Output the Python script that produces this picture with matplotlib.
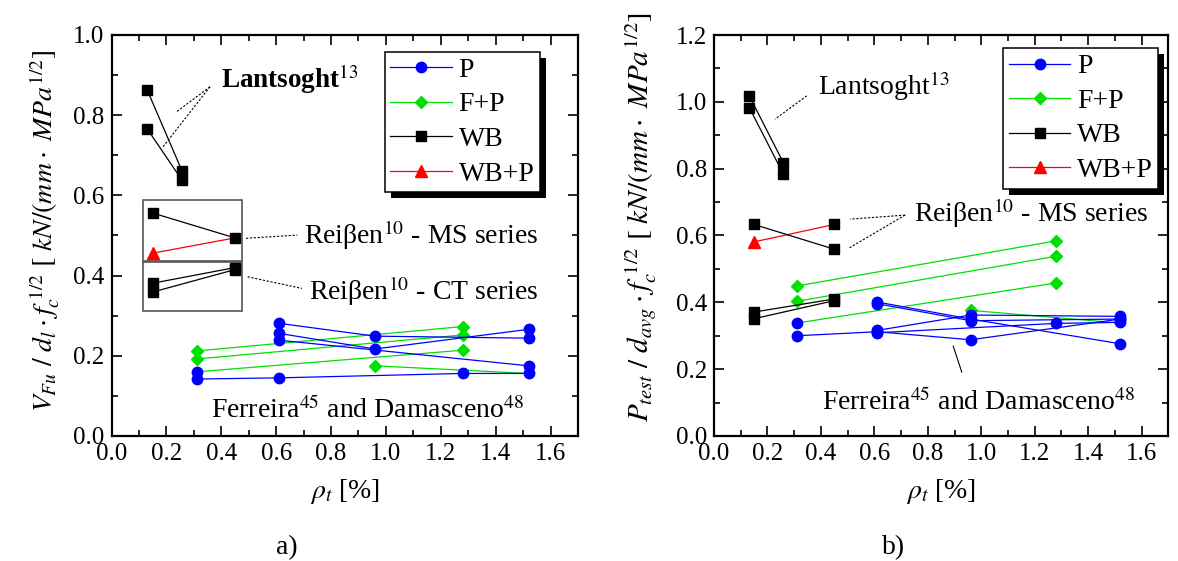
import matplotlib
matplotlib.use("Agg")
import matplotlib.pyplot as plt
from matplotlib.lines import Line2D
from matplotlib.patches import Rectangle
from matplotlib.ticker import MultipleLocator, FormatStrFormatter
from matplotlib.transforms import IdentityTransform

plt.rcParams['font.family'] = ['Liberation Serif', 'DejaVu Serif']
plt.rcParams['mathtext.fontset'] = 'stix'

# reinforcement ratios rho_t [%]
rho_lant_a = [0.13, 0.257]
rho_lant_b = [0.132, 0.26]
rho_reissen = [0.15, 0.45]

# --- a) V_Fu / d_l sqrt(fc) ---
lant_a = [[0.863, 0.661], [0.766, 0.638]]
ms_wb_a = [0.556, 0.494]
ms_wbp_a = [0.456, 0.494]
ct_wb_a = [[0.381, 0.420], [0.359, 0.415]]

p_a = [
    ([0.61, 0.96, 1.52], [0.281, 0.249, 0.244]),
    ([0.61, 0.96, 1.52], [0.256, 0.217, 0.266]),
    ([0.61, 1.52], [0.239, 0.175]),
    ([0.31, 0.61, 1.28, 1.52], [0.142, 0.145, 0.156, 0.156]),
    ([0.31], [0.160]),
]
fp_a = [
    ([0.31, 1.28], [0.212, 0.273], None),
    ([0.31, 1.28], [0.192, 0.252], None),
    ([0.31, 1.28], [0.160, 0.214], [1]),
    ([0.96, 1.52], [0.175, 0.156], [0]),
]

# --- b) P_test / d_avg sqrt(fc) ---
lant_b = [[1.018, 0.817], [0.983, 0.783]]
ms_wb_b = [0.633, 0.559]
ms_wb_b_extra = ([0.45], [0.633])
ms_wbp_b = [0.581, 0.633]
ct_wb_b = [[0.371, 0.410], [0.351, 0.405]]

p_b = [
    ([0.31, 0.61, 0.96, 1.52], [0.300, 0.312, 0.288, 0.350]),
    ([0.61, 0.96, 1.52], [0.316, 0.362, 0.358]),
    ([0.61, 1.28, 1.52], [0.309, 0.337, 0.340]),
    ([0.61, 0.96, 1.52], [0.401, 0.350, 0.276]),
    ([0.61, 0.96, 1.52], [0.396, 0.345, 0.350]),
    ([0.31], [0.338]),
]
fp_b = [
    ([0.31, 1.28], [0.449, 0.584], None),
    ([0.31, 1.28], [0.403, 0.538], None),
    ([0.31, 1.28], [0.338, 0.458], [1]),
    ([0.96, 1.52], [0.376, 0.338], [0]),
]

legend_labels = ['P', 'F+P', 'WB', 'WB+P']
styles = {
    'P': dict(color='#0000ff', marker='o', ms=7.5),
    'F+P': dict(color='#00e000', marker='D', ms=6.5),
    'WB': dict(color='black', marker='s', ms=6.5),
    'WB+P': dict(color='#ff0000', marker='^', ms=8),
}

W, H = 1178, 561
fig = plt.figure(figsize=(W / 100, H / 100), dpi=100)
ax_a = fig.add_axes([111.5 / W, 1 - 436 / H, 466.5 / W, 401 / H])
ax_b = fig.add_axes([714 / W, 1 - 436 / H, 454.4 / W, 401 / H])


def series(ax, x, y, kind, markevery=None, z=3):
    st = styles[kind]
    ax.plot(x, y, color=st['color'], lw=0.9, marker=st['marker'], ms=st['ms'],
            mec=st['color'], mfc=st['color'], markevery=markevery, zorder=z,
            clip_on=False)


def dotted(ax, p0, p1):
    ax.plot([p0[0], p1[0]], [p0[1], p1[1]], color='black', lw=0.8,
            ls=(0, (2, 1.5)), zorder=2)


def style_axes(ax, ymax):
    ax.set_xlim(0, 1.7)
    ax.set_ylim(0, ymax)
    ax.xaxis.set_major_locator(MultipleLocator(0.2))
    ax.xaxis.set_minor_locator(MultipleLocator(0.1))
    ax.yaxis.set_major_locator(MultipleLocator(0.2))
    ax.yaxis.set_minor_locator(MultipleLocator(0.1))
    ax.tick_params(which='both', direction='in', top=True, right=True,
                   labelsize=18, width=1.2)
    ax.tick_params(which='major', length=7, pad=5)
    ax.tick_params(which='minor', length=4)
    ax.xaxis.set_major_formatter(FormatStrFormatter('%.1f'))
    ax.yaxis.set_major_formatter(FormatStrFormatter('%.1f'))
    for sp in ax.spines.values():
        sp.set_linewidth(1.6)


def add_legend(ax, anchor):
    handles = [Line2D([], [], color=styles[k]['color'], lw=0.9,
                      marker=styles[k]['marker'], ms=styles[k]['ms'],
                      mec=styles[k]['color'], mfc=styles[k]['color'])
               for k in legend_labels]
    leg = ax.legend(handles, legend_labels, loc='upper left',
                    bbox_to_anchor=anchor, borderaxespad=0, fontsize=20,
                    handlelength=2.2, handletextpad=0.25, labelspacing=0.33,
                    borderpad=0.2, fancybox=False, framealpha=1,
                    edgecolor='black')
    leg.get_frame().set_linewidth(1.1)
    return leg


# ---------------- panel a ----------------
ax = ax_a
for x, y, me in fp_a:
    series(ax, x, y, 'F+P', me)
for x, y in p_a:
    series(ax, x, y, 'P')
for y in lant_a:
    series(ax, rho_lant_a, y, 'WB')
series(ax, rho_reissen, ms_wbp_a, 'WB+P', [0])
series(ax, rho_reissen, ms_wb_a, 'WB')
for y in ct_wb_a:
    series(ax, rho_reissen, y, 'WB')

for (x0, y0, x1, y1) in [(0.114, 0.436, 0.476, 0.589), (0.114, 0.312, 0.476, 0.434)]:
    ax.add_patch(Rectangle((x0, y0), x1 - x0, y1 - y0, fill=False,
                           ec='#555555', lw=1.2, zorder=1))

dotted(ax, (0.359, 0.871), (0.238, 0.809))
dotted(ax, (0.359, 0.871), (0.184, 0.718))
dotted(ax, (0.49, 0.493), (0.677, 0.501))
dotted(ax, (0.496, 0.397), (0.694, 0.368))
ax.text(0.40, 0.89, 'Lantsoght$^{13}$', fontsize=19.5, fontweight='bold',
        ha='left', va='center')
ax.text(0.701, 0.501, 'Reiβen$^{10}$ - MS series', fontsize=20,
        ha='left', va='center')
ax.text(0.719, 0.362, 'Reiβen$^{10}$ - CT series', fontsize=20,
        ha='left', va='center')
ax.text(0.363, 0.065, 'Ferreira$^{45}$ and Damasceno$^{48}$', fontsize=20,
        ha='left', va='center')
style_axes(ax, 1.0)
leg_a = add_legend(ax, (0.586, 0.958))

# ---------------- panel b ----------------
ax = ax_b
for x, y, me in fp_b:
    series(ax, x, y, 'F+P', me)
for x, y in p_b:
    series(ax, x, y, 'P')
for y in lant_b:
    series(ax, rho_lant_b, y, 'WB')
series(ax, rho_reissen, ms_wbp_b, 'WB+P', [0])
series(ax, rho_reissen, ms_wb_b, 'WB')
series(ax, *ms_wb_b_extra, 'WB')
for y in ct_wb_b:
    series(ax, rho_reissen, y, 'WB')

dotted(ax, (0.347, 1.018), (0.228, 0.948))
dotted(ax, (0.715, 0.661), (0.509, 0.649))
dotted(ax, (0.715, 0.661), (0.502, 0.561))
ax.plot([0.895, 0.927], [0.269, 0.191], color='black', lw=0.8, zorder=2)
ax.text(0.389, 1.046, 'Lantsoght$^{13}$', fontsize=20, ha='left', va='center')
ax.text(0.748, 0.667, 'Reiβen$^{10}$ - MS series', fontsize=20,
        ha='left', va='center')
ax.text(0.403, 0.101, 'Ferreira$^{45}$ and Damasceno$^{48}$', fontsize=20,
        ha='left', va='center')
style_axes(ax, 1.2)
leg_b = add_legend(ax, (0.637, 0.967))

# axis titles and panel tags
fig.text(45 / W, 1 - 412 / H,
         r'$V_{Fu}\ /\ d_l\cdot f_c^{\ 1/2}\ [\ kN/(mm\cdot\ MPa^{1/2}]$',
         rotation=90, ha='center', va='bottom', fontsize=20)
fig.text(641 / W, 1 - 422 / H,
         r'$P_{test}\ /\ d_{avg}\cdot f_c^{\ 1/2}\ [\ kN/(mm\cdot\ MPa^{1/2}]$',
         rotation=90, ha='center', va='bottom', fontsize=21)
for cx in (345, 941):
    fig.text(cx / W, 1 - 492 / H, r'$\rho_t$ [%]', ha='center', va='center',
             fontsize=20)
fig.text(287 / W, 1 - 548 / H, 'a)', ha='center', va='center', fontsize=20)
fig.text(894 / W, 1 - 548 / H, 'b)', ha='center', va='center', fontsize=20)

# solid drop shadow behind each legend box
fig.canvas.draw()
for ax, leg in ((ax_a, leg_a), (ax_b, leg_b)):
    bb = leg.get_frame().get_window_extent()
    shadow = Rectangle((bb.x0 + 6, bb.y0 - 6), bb.width, bb.height,
                       transform=IdentityTransform(), facecolor='black',
                       edgecolor='none', zorder=4.9, clip_on=False)
    ax.add_artist(shadow)

fig.savefig('out.png', dpi=100)
